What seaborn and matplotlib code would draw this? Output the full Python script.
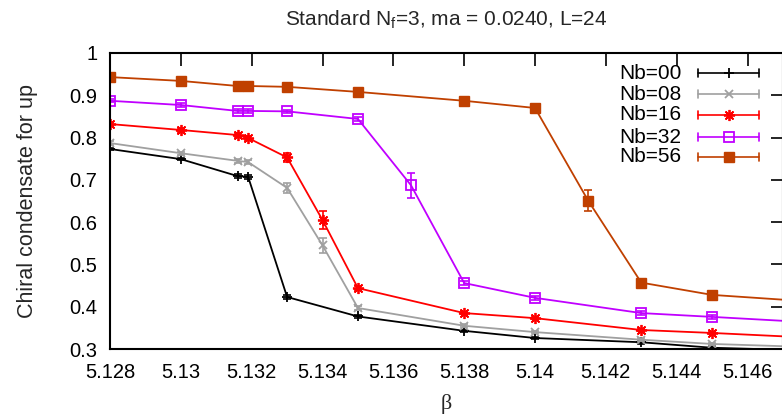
import numpy as np
import pandas as pd
import seaborn as sns
import matplotlib
matplotlib.use("Agg")
import matplotlib.pyplot as plt

# beta values and chiral condensate per Nb series
beta_a = [5.128, 5.130, 5.1316, 5.1319, 5.133, 5.134, 5.135, 5.138, 5.140, 5.143, 5.145, 5.148]
nb00 = [0.773, 0.749, 0.709, 0.707, 0.423, None, 0.377, 0.343, 0.326, 0.316, 0.303, 0.296]
nb00_err = [0.003, 0.003, 0.004, 0.004, 0.004, None, 0.003, 0.003, 0.003, 0.003, 0.003, 0.003]
nb08 = [0.787, 0.763, 0.745, 0.742, 0.681, 0.545, 0.397, 0.355, 0.340, 0.322, 0.312, 0.304]
nb08_err = [0.004, 0.004, 0.004, 0.004, 0.012, 0.017, 0.004, 0.003, 0.003, 0.003, 0.003, 0.003]
nb16 = [0.832, 0.818, 0.806, 0.799, 0.753, 0.605, 0.444, 0.385, 0.373, 0.345, 0.338, 0.326]
nb16_err = [0.004, 0.004, 0.004, 0.004, 0.010, 0.022, 0.004, 0.003, 0.003, 0.003, 0.003, 0.003]

beta_b = [5.128, 5.130, 5.1316, 5.1319, 5.133, 5.135, 5.1365, 5.138, 5.140, 5.143, 5.145, 5.148]
nb32 = [0.887, 0.877, 0.863, 0.863, 0.862, 0.844, 0.687, 0.456, 0.421, 0.385, 0.376, 0.362]
nb32_err = [0.004, 0.004, 0.004, 0.004, 0.004, 0.005, 0.030, 0.005, 0.004, 0.004, 0.004, 0.004]

beta_c = [5.128, 5.130, 5.1316, 5.1319, 5.133, 5.135, 5.138, 5.140, 5.1415, 5.143, 5.145, 5.148]
nb56 = [0.943, 0.934, 0.922, 0.922, 0.920, 0.908, 0.887, 0.870, 0.651, 0.457, 0.428, 0.411]
nb56_err = [0.003, 0.003, 0.003, 0.003, 0.003, 0.003, 0.003, 0.003, 0.024, 0.004, 0.004, 0.004]

labels = ["Nb=00", "Nb=08", "Nb=16", "Nb=32", "Nb=56"]
colors = ["#000000", "#a0a0a0", "#ff0000", "#c000ff", "#c04000"]

x_ticks = [5.128, 5.130, 5.132, 5.134, 5.136, 5.138, 5.140, 5.142, 5.144, 5.146]
x_ticklabels = ["5.128", "5.13", "5.132", "5.134", "5.136", "5.138", "5.14", "5.142", "5.144", "5.146"]
y_ticks = [0.3, 0.4, 0.5, 0.6, 0.7, 0.8, 0.9, 1.0]
y_ticklabels = ["0.3", "0.4", "0.5", "0.6", "0.7", "0.8", "0.9", "1"]

series = [
    (beta_a, nb00, nb00_err),
    (beta_a, nb08, nb08_err),
    (beta_a, nb16, nb16_err),
    (beta_b, nb32, nb32_err),
    (beta_c, nb56, nb56_err),
]

# marker styles: plus, cross, asterisk, open square, filled square
marker_styles = [
    dict(marker="+", ms=6.5, mew=1.3),
    dict(marker="x", ms=5.5, mew=1.3),
    dict(marker=(8, 2, 0), ms=8, mew=1.3),
    dict(marker="s", ms=6.5, mew=1.3, mfc="none"),
    dict(marker="s", ms=6.5, mew=1.0),
]

sns.set_theme(style="white")
plt.rcParams["font.family"] = ["Liberation Sans", "DejaVu Sans"]

fig = plt.figure(figsize=(7.82, 4.16), dpi=100)
ax = fig.add_axes([0.1407, 0.161, 0.8605, 0.7116])

for (bx, vals, errs), lab, col, ms in zip(series, labels, colors, marker_styles):
    df = pd.DataFrame({"beta": bx, "cond": vals, "err": errs}).dropna()
    sns.lineplot(data=df, x="beta", y="cond", color=col, lw=1.3,
                 estimator=None, sort=False, errorbar=None, ax=ax,
                 mec=col, clip_on=True, **ms)
    ax.errorbar(df["beta"], df["cond"], yerr=df["err"], fmt="none",
                ecolor=col, elinewidth=1.2, capsize=3, capthick=1.2)

ax.set_xlim(5.128, 5.147)
ax.set_ylim(0.3, 1.0)
ax.set_xticks(x_ticks)
ax.set_xticklabels(x_ticklabels)
ax.set_yticks(y_ticks)
ax.set_yticklabels(y_ticklabels)
ax.tick_params(direction="in", length=9, width=1.2, top=True, right=True,
               labelsize=14.5, colors="black")
ax.tick_params(axis="x", pad=10)
ax.tick_params(axis="y", pad=9)
for sp in ax.spines.values():
    sp.set_color("black")
    sp.set_linewidth(1.5)

ax.set_xlabel("β", fontsize=16, family=["Liberation Serif", "DejaVu Serif"], labelpad=9)
ax.set_ylabel("Chiral condensate for up", fontsize=15.5, labelpad=23)
ax.set_title("Standard N$_\\mathregular{f}$=3, ma = 0.0240, L=24", fontsize=15, pad=20)

# key in the upper right: label, then a capped sample line with the marker
row_y = [0.932, 0.861, 0.791, 0.716, 0.649]
for i, (lab, col, ms) in enumerate(zip(labels, colors, marker_styles)):
    yy = row_y[i]
    ax.text(0.849, yy, lab, transform=ax.transAxes, ha="right", va="center",
            fontsize=15, color="black")
    ax.plot([0.874, 0.965], [yy, yy], transform=ax.transAxes, color=col, lw=1.2,
            clip_on=False)
    for xe in (0.874, 0.965):
        ax.plot([xe, xe], [yy - 0.013, yy + 0.013], transform=ax.transAxes,
                color=col, lw=1.2, clip_on=False)
    ax.plot([0.9195], [yy], transform=ax.transAxes, color=col, mec=col,
            ls="none", clip_on=False, **ms)

fig.savefig("out.png", dpi=100)
